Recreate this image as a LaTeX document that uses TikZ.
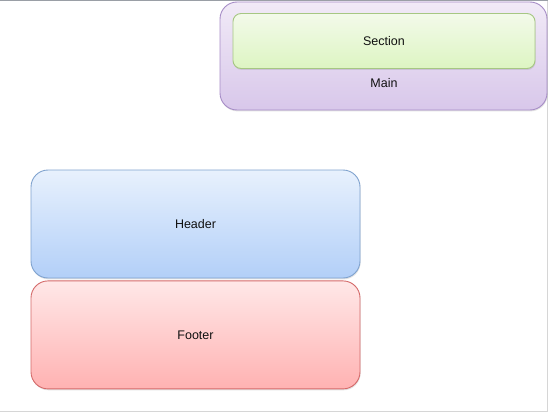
\documentclass[tikz,border=0pt]{standalone}
\usepackage{fontspec}
\setmainfont{Liberation Sans}
\usepackage{tikz}
\usetikzlibrary{positioning,shadows}
\definecolor{ink}{HTML}{111111}
\definecolor{frametop}{HTML}{9A9FA6}
\definecolor{frameside}{HTML}{D6D6D6}
\definecolor{maintop}{HTML}{F1EAF7}
\definecolor{mainbot}{HTML}{D8C7EA}
\definecolor{mainline}{HTML}{A68CC6}
\definecolor{sectop}{HTML}{F3FAEA}
\definecolor{secbot}{HTML}{DDF5C2}
\definecolor{secline}{HTML}{A6C783}
\definecolor{headtop}{HTML}{E8F1FD}
\definecolor{headbot}{HTML}{B2CFF8}
\definecolor{headline}{HTML}{7FA2CE}
\definecolor{foottop}{HTML}{FFE8E8}
\definecolor{footbot}{HTML}{FFB2B2}
\definecolor{footline}{HTML}{D46A6A}
\tikzset{
  part/.style={rounded corners=17pt,line width=0.9pt,text=ink,font=\fontsize{12.5}{14}\selectfont,
               drop shadow={opacity=0.22,shadow xshift=0.6pt,shadow yshift=-1.4pt}},
  mainbox/.style={part,draw=mainline,top color=maintop,bottom color=mainbot,minimum width=327pt,minimum height=108pt},
  secbox/.style={part,rounded corners=8pt,draw=secline,top color=sectop,bottom color=secbot,minimum width=302pt,minimum height=55pt},
  headbox/.style={part,draw=headline,top color=headtop,bottom color=headbot,minimum width=329pt,minimum height=108pt},
  footbox/.style={part,draw=footline,top color=foottop,bottom color=footbot,minimum width=329pt,minimum height=108pt},
  lbl/.style={text=ink,font=\fontsize{12.5}{14}\selectfont},
}
\begin{document}
\begin{tikzpicture}[x=1pt,y=1pt]
\useasboundingbox (0,0) rectangle (548,-412);

% ---- window frame
\draw[frametop,line width=1.2pt] (0,-0.6) -- (548,-0.6);
\draw[frameside,line width=1pt] (547.5,-0.6) -- (547.5,-411.5) -- (0,-411.5);

% ---- main with its section
\node[mainbox] (main) at (383.5,-56) {};
\node[secbox] (section) at (384,-41) {Section};
\node[lbl] (mainlbl) at (384,-83) {Main};

% ---- header / footer
\node[headbox] (header) at (195.5,-224) {Header};
\node[footbox,below=2pt of header] (footer) {Footer};

\end{tikzpicture}
\end{document}
